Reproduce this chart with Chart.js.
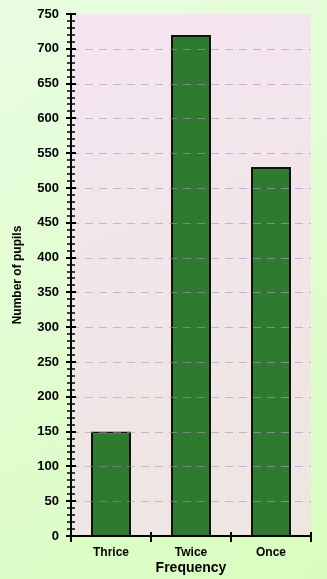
<!DOCTYPE html>
<html>
<head>
<meta charset="utf-8">
<script src="https://cdn.jsdelivr.net/npm/chart.js@4"></script>
<style>
  html, body { margin: 0; padding: 0; }
  body { width: 327px; height: 579px; }
  #myChart { display: block; }
</style>
</head>
<body>
<canvas id="myChart" width="327" height="579"></canvas>
<script>
var categories = ['Thrice', 'Twice', 'Once']
var pupils = [150, 720, 530]
var yMax = 750
var yStep = 50
var yMinorStep = 10

// page + plot backgrounds, gridlines and the axis with minor ticks
var decor = {
    id: 'decor',
    beforeDraw(chart) {
        var c = chart.ctx
        var a = chart.chartArea
        var bg = c.createLinearGradient(0, 0, chart.width, chart.height)
        bg.addColorStop(0, '#e9fde2')
        bg.addColorStop(1, '#d9fdbf')
        c.save()
        c.fillStyle = bg
        c.fillRect(0, 0, chart.width, chart.height)
        var pg = c.createLinearGradient(a.left, a.top, a.right, a.bottom)
        pg.addColorStop(0, '#f5e5f1')
        pg.addColorStop(1, '#ede6e0')
        c.fillStyle = pg
        c.fillRect(a.left, a.top, a.right - a.left, a.bottom - a.top)
        c.restore()
    },
    afterDatasetsDraw(chart) {
        var c = chart.ctx
        var a = chart.chartArea
        var y = chart.scales.y
        var x = chart.scales.x
        c.save()
        // dashed gridlines
        c.setLineDash([8, 6])
        c.lineWidth = 1
        for (var v = yStep; v < yMax; v += yStep) {
            var py = Math.round(y.getPixelForValue(v)) + 0.5
            var g = c.createLinearGradient(a.left, 0, a.right, 0)
            g.addColorStop(0, 'rgba(150,150,150,0.5)')
            g.addColorStop(1, 'rgba(185,150,200,0.7)')
            c.strokeStyle = g
            c.beginPath()
            c.moveTo(a.left, py)
            c.lineTo(a.right, py)
            c.stroke()
        }
        c.setLineDash([])
        c.strokeStyle = '#000'
        c.lineWidth = 2
        // y axis line
        c.beginPath()
        c.moveTo(a.left, y.getPixelForValue(yMax))
        c.lineTo(a.left, a.bottom)
        c.stroke()
        // x axis line
        c.beginPath()
        c.moveTo(a.left - 5, a.bottom)
        c.lineTo(a.right, a.bottom)
        c.stroke()
        // y ticks crossing the axis
        for (var t = 0; t <= yMax; t += yMinorStep) {
            var ty = Math.round(y.getPixelForValue(t))
            var major = t % yStep === 0
            var half = major ? 5 : 4
            c.lineWidth = major ? 2 : 1.5
            c.beginPath()
            c.moveTo(a.left - half, ty)
            c.lineTo(a.left + half, ty)
            c.stroke()
        }
        // x ticks at category edges
        c.lineWidth = 2
        for (var i = 0; i <= categories.length; i++) {
            var tx = Math.round(x.getPixelForValue(i - 0.5))
            c.beginPath()
            c.moveTo(tx, a.bottom - 4)
            c.lineTo(tx, a.bottom + 6)
            c.stroke()
        }
        c.restore()
    }
}

var ctx = document.getElementById('myChart')

var myChart = new Chart(ctx, {
    type: 'bar',
    data: {
        labels: categories,
        datasets: [{
            label: 'Number of pupils',
            data: pupils,
            backgroundColor: '#2e7a2f',
            borderColor: '#111',
            borderWidth: 2,
            barPercentage: 0.5,
            categoryPercentage: 1
        }]
    },
    options: {
        responsive: false,
        animation: false,
        layout: { padding: { top: 14, right: 16, left: 0, bottom: 0 } },
        plugins: {
            legend: { display: false },
            tooltip: { enabled: false }
        },
        scales: {
            x: {
                offset: true,
                grid: { display: false },
                border: { display: false },
                ticks: {
                    color: '#000',
                    font: { family: 'Arial', size: 12, weight: 'bold' },
                    padding: 1
                },
                title: {
                    display: true,
                    text: 'Frequency',
                    color: '#000',
                    font: { family: 'Arial', size: 14, weight: 'bold' },
                    padding: { top: 0, bottom: 2 }
                },
                afterFit(scale) {
                    scale.height = 43
                    scale.paddingLeft = 0
                    scale.paddingRight = 0
                }
            },
            y: {
                min: 0,
                max: yMax,
                grid: { display: false },
                border: { display: false },
                ticks: {
                    stepSize: yStep,
                    color: '#000',
                    font: { family: 'Arial', size: 13, weight: 'bold' },
                    padding: 4
                },
                title: {
                    display: true,
                    text: 'Number of pupils',
                    color: '#000',
                    font: { family: 'Arial', size: 12, weight: 'bold' },
                    padding: { top: 10, bottom: 0 }
                },
                afterFit(scale) {
                    scale.width = 71
                    scale.paddingTop = 0
                    scale.paddingBottom = 0
                }
            }
        }
    },
    plugins: [decor]
})
</script>
</body>
</html>
